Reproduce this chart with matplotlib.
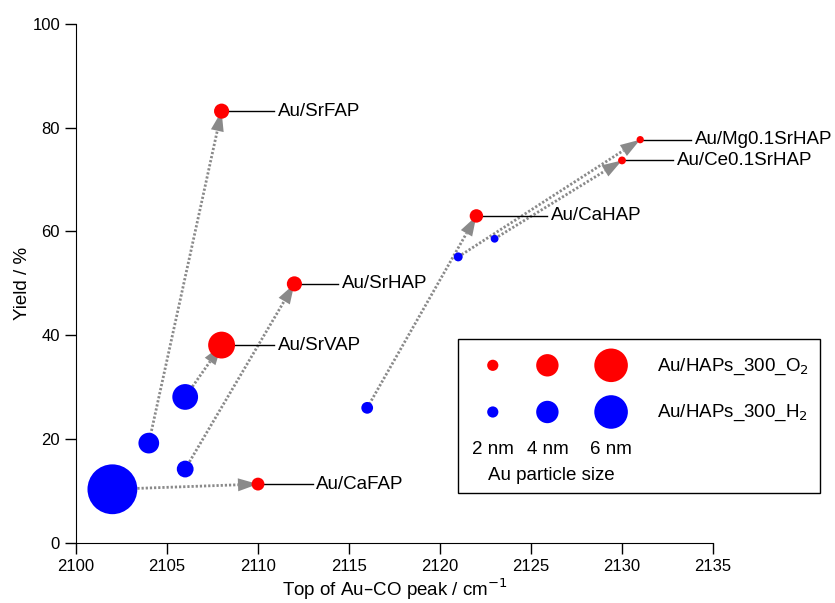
import numpy as np
import matplotlib
matplotlib.use('Agg')
import matplotlib.pyplot as plt
from matplotlib.patches import Rectangle, Polygon

plt.rcParams['font.family'] = ['Liberation Sans', 'DejaVu Sans']

# H2-treated samples (start of each arrow)
h2_x = [2102, 2104, 2106, 2106, 2116, 2121, 2123]
h2_y = [10.3, 19.2, 28.1, 14.2, 26.0, 55.1, 58.6]
h2_nm = [8.9, 3.7, 4.6, 3.0, 2.1, 1.6, 1.4]

# O2-treated samples (end of each arrow), same order
names = ['Au/CaFAP', 'Au/SrFAP', 'Au/SrVAP', 'Au/SrHAP', 'Au/CaHAP',
         'Au/Mg0.1SrHAP', 'Au/Ce0.1SrHAP']
o2_x = [2110, 2108, 2108, 2112, 2122, 2131, 2130]
o2_y = [11.3, 83.2, 38.1, 49.9, 63.0, 77.7, 73.7]
o2_nm = [2.3, 2.7, 4.8, 2.7, 2.4, 1.3, 1.4]
label_x = [2113.0, 2110.9, 2110.9, 2114.4, 2125.9, 2133.8, 2132.8]

legend_nm = [2, 4, 6]

PT_PER_NM = 4.03  # marker diameter in points per nm
HEAD_L, HEAD_W = 20.0, 13.0  # arrow head in pixels
GREY = '#8a8a8a'


def msize(nm):
    return (PT_PER_NM * np.asarray(nm)) ** 2


fig = plt.figure(figsize=(8.35, 6.03), dpi=100)
ax = fig.add_axes([0.0910, 0.1000, 0.7629, 0.8602])
ax.set_xlim(2100, 2135)
ax.set_ylim(0, 100)

# dotted arrows H2 -> O2, head tip at the O2 marker centre
inv = ax.transData.inverted()
for i in range(len(names)):
    p0 = ax.transData.transform((h2_x[i], h2_y[i]))
    p1 = ax.transData.transform((o2_x[i], o2_y[i]))
    u = (p1 - p0) / np.hypot(*(p1 - p0))
    n = np.array([-u[1], u[0]])
    base = p1 - u * HEAD_L
    tri = inv.transform([p1, base + n * HEAD_W / 2, base - n * HEAD_W / 2])
    b = inv.transform(base)
    ax.plot([h2_x[i], b[0]], [h2_y[i], b[1]], color=GREY, lw=2.0,
            linestyle=(0, (0.8, 0.7)), solid_capstyle='butt', zorder=1)
    ax.add_patch(Polygon(tri, closed=True, facecolor=GREY, edgecolor='none', zorder=2))

# label leader lines and text
for i in range(len(names)):
    ax.plot([o2_x[i], label_x[i]], [o2_y[i], o2_y[i]], color='black', lw=1, zorder=1,
            clip_on=False)
    ax.text(label_x[i] + 0.2, o2_y[i], names[i], fontsize=13.5, va='center', ha='left')

ax.scatter(h2_x, h2_y, s=msize(h2_nm), color='#0000ff', edgecolors='none', zorder=3)
ax.scatter(o2_x, o2_y, s=msize(o2_nm), color='#ff0000', edgecolors='none', zorder=3)

ax.set_xticks(np.arange(2100, 2136, 5))
ax.set_yticks(np.arange(0, 101, 20))
ax.spines['top'].set_visible(False)
ax.spines['right'].set_visible(False)
ax.tick_params(direction='out', length=8, width=1, labelsize=12)
ax.set_xlabel('Top of Au\u2013CO peak / cm$^{-1}$', fontsize=13.5, labelpad=2)
ax.set_ylabel('Yield / %', fontsize=13.5, labelpad=1)

# size legend box
ax.add_patch(Rectangle((2121.0, 9.6), 19.9, 29.7, fill=False, edgecolor='black', lw=1,
                       clip_on=False))
leg_x = [2122.9, 2125.9, 2129.4]
ax.scatter(leg_x, [34.2] * 3, s=msize(legend_nm), color='#ff0000', edgecolors='none',
           clip_on=False, zorder=3)
ax.scatter(leg_x, [25.2] * 3, s=msize(legend_nm), color='#0000ff', edgecolors='none',
           clip_on=False, zorder=3)
ax.text(2131.9, 34.0, 'Au/HAPs_300_O$_2$', fontsize=13.5, va='center', ha='left')
ax.text(2131.9, 25.0, 'Au/HAPs_300_H$_2$', fontsize=13.5, va='center', ha='left')
for xx, nm in zip(leg_x, legend_nm):
    ax.text(xx, 18.0, '%d nm' % nm, fontsize=13.5, va='center', ha='center')
ax.text(2126.1, 12.9, 'Au particle size', fontsize=13.5, va='center', ha='center')

fig.savefig('out.png', dpi=100)
